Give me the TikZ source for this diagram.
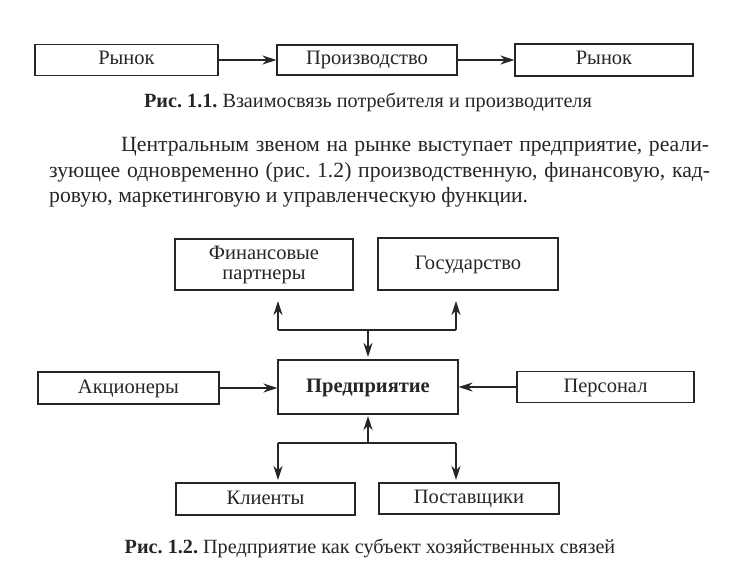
\documentclass[tikz,border=0pt]{standalone}
\usepackage{fontspec}
\setmainfont{Liberation Serif}
\usetikzlibrary{arrows.meta}
\frenchspacing
\begin{document}
\begin{tikzpicture}[x=1bp,y=-1bp,
  boxbase/.style={draw=black!85,line width=1.1bp,rectangle,inner sep=0pt,
    font=\fontsize{20.5bp}{21bp}\selectfont,text=black!85},
  box/.style={boxbase,text height=14bp,text depth=4bp},
  conn/.style={draw=black!85,line width=1.1bp},
  arr/.style={conn,-{Stealth[length=14bp,width=9bp,inset=4.5bp]}},
  body/.style={anchor=base west,inner sep=0pt,font=\fontsize{21.7bp}{25bp}\selectfont,text=black!85},
  captext/.style={anchor=base,inner sep=0pt,font=\fontsize{20.2bp}{22bp}\selectfont,text=black!85}]
\useasboundingbox[fill=white] (0,0) rectangle (729,584);
% Fig 1.1
\node[box,minimum width=183bp,minimum height=31bp] (r1) at (126.5,60) {Рынок};
\node[box,minimum width=180bp,minimum height=30bp] (prod) at (367,60) {Производство};
\node[box,minimum width=178bp,minimum height=32bp] (r2) at (604,60) {Рынок};
\draw[arr] (r1) -- (prod);
\draw[arr] (prod) -- (r2);
\node[captext] (c1) at (368,108) {\textbf{Рис. 1.1.} Взаимосвязь потребителя и производителя};
% paragraph
\node[body] (p1) at (121,152) {\makebox[588bp][s]{Центральным звеном на рынке выступает предприятие, реали-}};
\node[body] (p2) at (49,178) {\makebox[661bp][s]{зующее одновременно (рис. 1.2) производственную, финансовую, кад-}};
\node[body] (p3) at (49,203) {ровую, маркетинговую и управленческую функции.};
% Fig 1.2
\node[boxbase,minimum width=178bp,minimum height=51bp,align=center,
  font=\fontsize{20.5bp}{20bp}\selectfont] (fin) at (264,264.5) {Финансовые\\партнеры};
\node[box,minimum width=180bp,minimum height=52bp] (gos) at (468,264) {Государство};
\node[box,minimum width=180bp,minimum height=54bp,font=\fontsize{20.5bp}{21bp}\selectfont\bfseries] (pred) at (368,387) {Предприятие};
\node[box,minimum width=181bp,minimum height=32bp] (akc) at (128.5,388) {Акционеры};
\node[box,minimum width=177bp,minimum height=31bp] (pers) at (605.5,387) {Персонал};
\node[box,minimum width=179bp,minimum height=32bp] (kl) at (265.5,499) {Клиенты};
\node[box,minimum width=180bp,minimum height=31bp] (post) at (469,498.5) {Поставщики};
% top junction
\coordinate (jt) at (368,330);
\coordinate (jtl) at (278,330);
\coordinate (jtr) at (456,330);
\coordinate (tl) at (278,301);
\coordinate (tr) at (456,301);
\coordinate (td) at (368,357);
\draw[conn] (jtl) -- (jtr);
\draw[arr] (jtl) -- (tl);
\draw[arr] (jtr) -- (tr);
\draw[arr] (jt) -- (td);
% sides
\draw[arr] (akc.east) -- (akc.east -| pred.west);
\draw[arr] (pers.west) -- (pers.west -| pred.east);
% bottom junction
\coordinate (jb) at (368,443);
\coordinate (jbl) at (278,443);
\coordinate (jbr) at (456,443);
\coordinate (bu) at (368,416);
\coordinate (bl) at (278,480);
\coordinate (br) at (456,480);
\draw[conn] (jbl) -- (jbr);
\draw[arr] (jb) -- (bu);
\draw[arr] (jbl) -- (bl);
\draw[arr] (jbr) -- (br);
\node[captext] (c2) at (370,553) {\textbf{Рис. 1.2.} Предприятие как субъект хозяйственных связей};
\end{tikzpicture}
\end{document}
